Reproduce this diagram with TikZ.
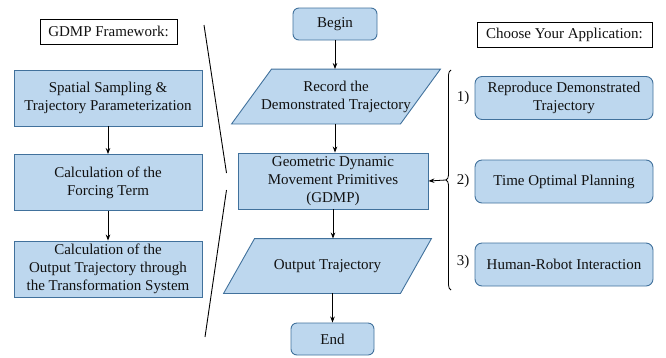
\documentclass[tikz,border=0pt]{standalone}
\usepackage{fontspec}
\setmainfont{Liberation Serif}
\newfontfamily\tnr{Liberation Serif}
\usepackage{xcolor}
\usepackage{tikz}
\usetikzlibrary{arrows.meta,decorations.pathreplacing,backgrounds}
\definecolor{boxfill}{HTML}{BDD7EE}
\definecolor{boxline}{HTML}{41719C}
\definecolor{ink}{HTML}{111111}
\tikzset{
  base/.style={draw=boxline, fill=boxfill, line width=0.9pt, align=center, inner sep=0pt,
    font=\tnr\fontsize{15}{18}\selectfont, text=ink},
  proc/.style={base, rectangle, minimum width=188pt, minimum height=56pt},
  term/.style={base, rectangle, rounded corners=6pt, minimum width=84pt, minimum height=32pt},
  app/.style={base, rectangle, rounded corners=7pt, minimum width=178pt, minimum height=43pt},
  io/.style={base, draw=none, fill=none, minimum height=54pt},
  ioshape/.style={draw=boxline, fill=boxfill, line width=0.9pt},
  title/.style={draw=black, line width=0.8pt, inner sep=0pt, minimum height=25pt,
    font=\tnr\fontsize{15}{18}\selectfont, text=ink},
  flow/.style={-{Stealth[length=6pt,width=4.5pt]}, line width=0.8pt, draw=black},
  num/.style={font=\tnr\fontsize{15}{18}\selectfont, text=ink}
}
% slanted outline behind an io node: #1 node name, #2 half slant
\newcommand{\slantbox}[2]{%
  \draw[ioshape] ([xshift=#2]#1.north west) -- ([xshift=#2]#1.north east)
    -- ([xshift=-#2]#1.south east) -- ([xshift=-#2]#1.south west) -- cycle;}
\begin{document}
\begin{tikzpicture}[x=1pt,y=-1pt]
  \useasboundingbox (0,0) rectangle (666,357);

  % left column
  \node[title, minimum width=137pt] (frame) at (108.5,31.5) {GDMP Framework:};
  \node[proc] (spat)   at (108,98)  {Spatial Sampling \&\\Trajectory Parameterization};
  \node[proc] (force)  at (108,182.5) {Calculation of the\\Forcing Term};
  \node[proc] (outsys) at (108,269) {Calculation of the\\Output Trajectory through\\the Transformation System};
  \draw[flow] (spat) -- (force);
  \draw[flow] (force) -- (outsys);

  % separator
  \coordinate (s1) at (204,25);
  \coordinate (s2) at (226.5,173);
  \coordinate (s3) at (226.5,190);
  \coordinate (s4) at (205,337);
  \draw[line width=0.9pt] (s1) -- (s2);
  \draw[line width=0.9pt] (s3) -- (s4);

  % main flow
  \node[term] (begin)  at (335,24)    {Begin};
  \node[io, minimum width=168pt] (record) at (336,96.5) {Record the\\Demonstrated Trajectory};
  \node[proc, minimum width=190pt] (gdmp) at (333,181) {Geometric Dynamic\\Movement Primitives\\(GDMP)};
  \node[io, minimum width=176pt] (output) at (327.5,266) {Output Trajectory};
  \node[term, minimum width=83pt] (stop) at (332.5,339) {End};
  \begin{scope}[on background layer]
    \slantbox{record}{20pt}
    \slantbox{output}{15.5pt}
  \end{scope}
  \draw[flow] (begin) -- (begin |- record.north);
  \draw[flow] (begin |- record.south) -- (begin |- gdmp.north);
  \draw[flow] (gdmp) -- (gdmp |- output.north);
  \draw[flow] (stop |- output.south) -- (stop);

  % applications
  \node[title, minimum width=175pt] (apps) at (564.5,34.5) {Choose Your Application:};
  \node[app] (repro)   at (564,98)    {Reproduce Demonstrated\\Trajectory};
  \node[app] (timeopt) at (564,181.5) {Time Optimal Planning};
  \node[app] (hri)     at (564,264.5) {Human-Robot Interaction};
  \node[num] (n1) at (463,98)  {1)};
  \node[num] (n2) at (463,181) {2)};
  \node[num] (n3) at (463,262) {3)};

  \draw[line width=0.8pt, decorate, decoration={brace, amplitude=5pt}]
    (451,290) -- (451,70);
  \coordinate (tip) at (446,180);
  \draw[flow] (tip) -- (gdmp.east);
\end{tikzpicture}
\end{document}
